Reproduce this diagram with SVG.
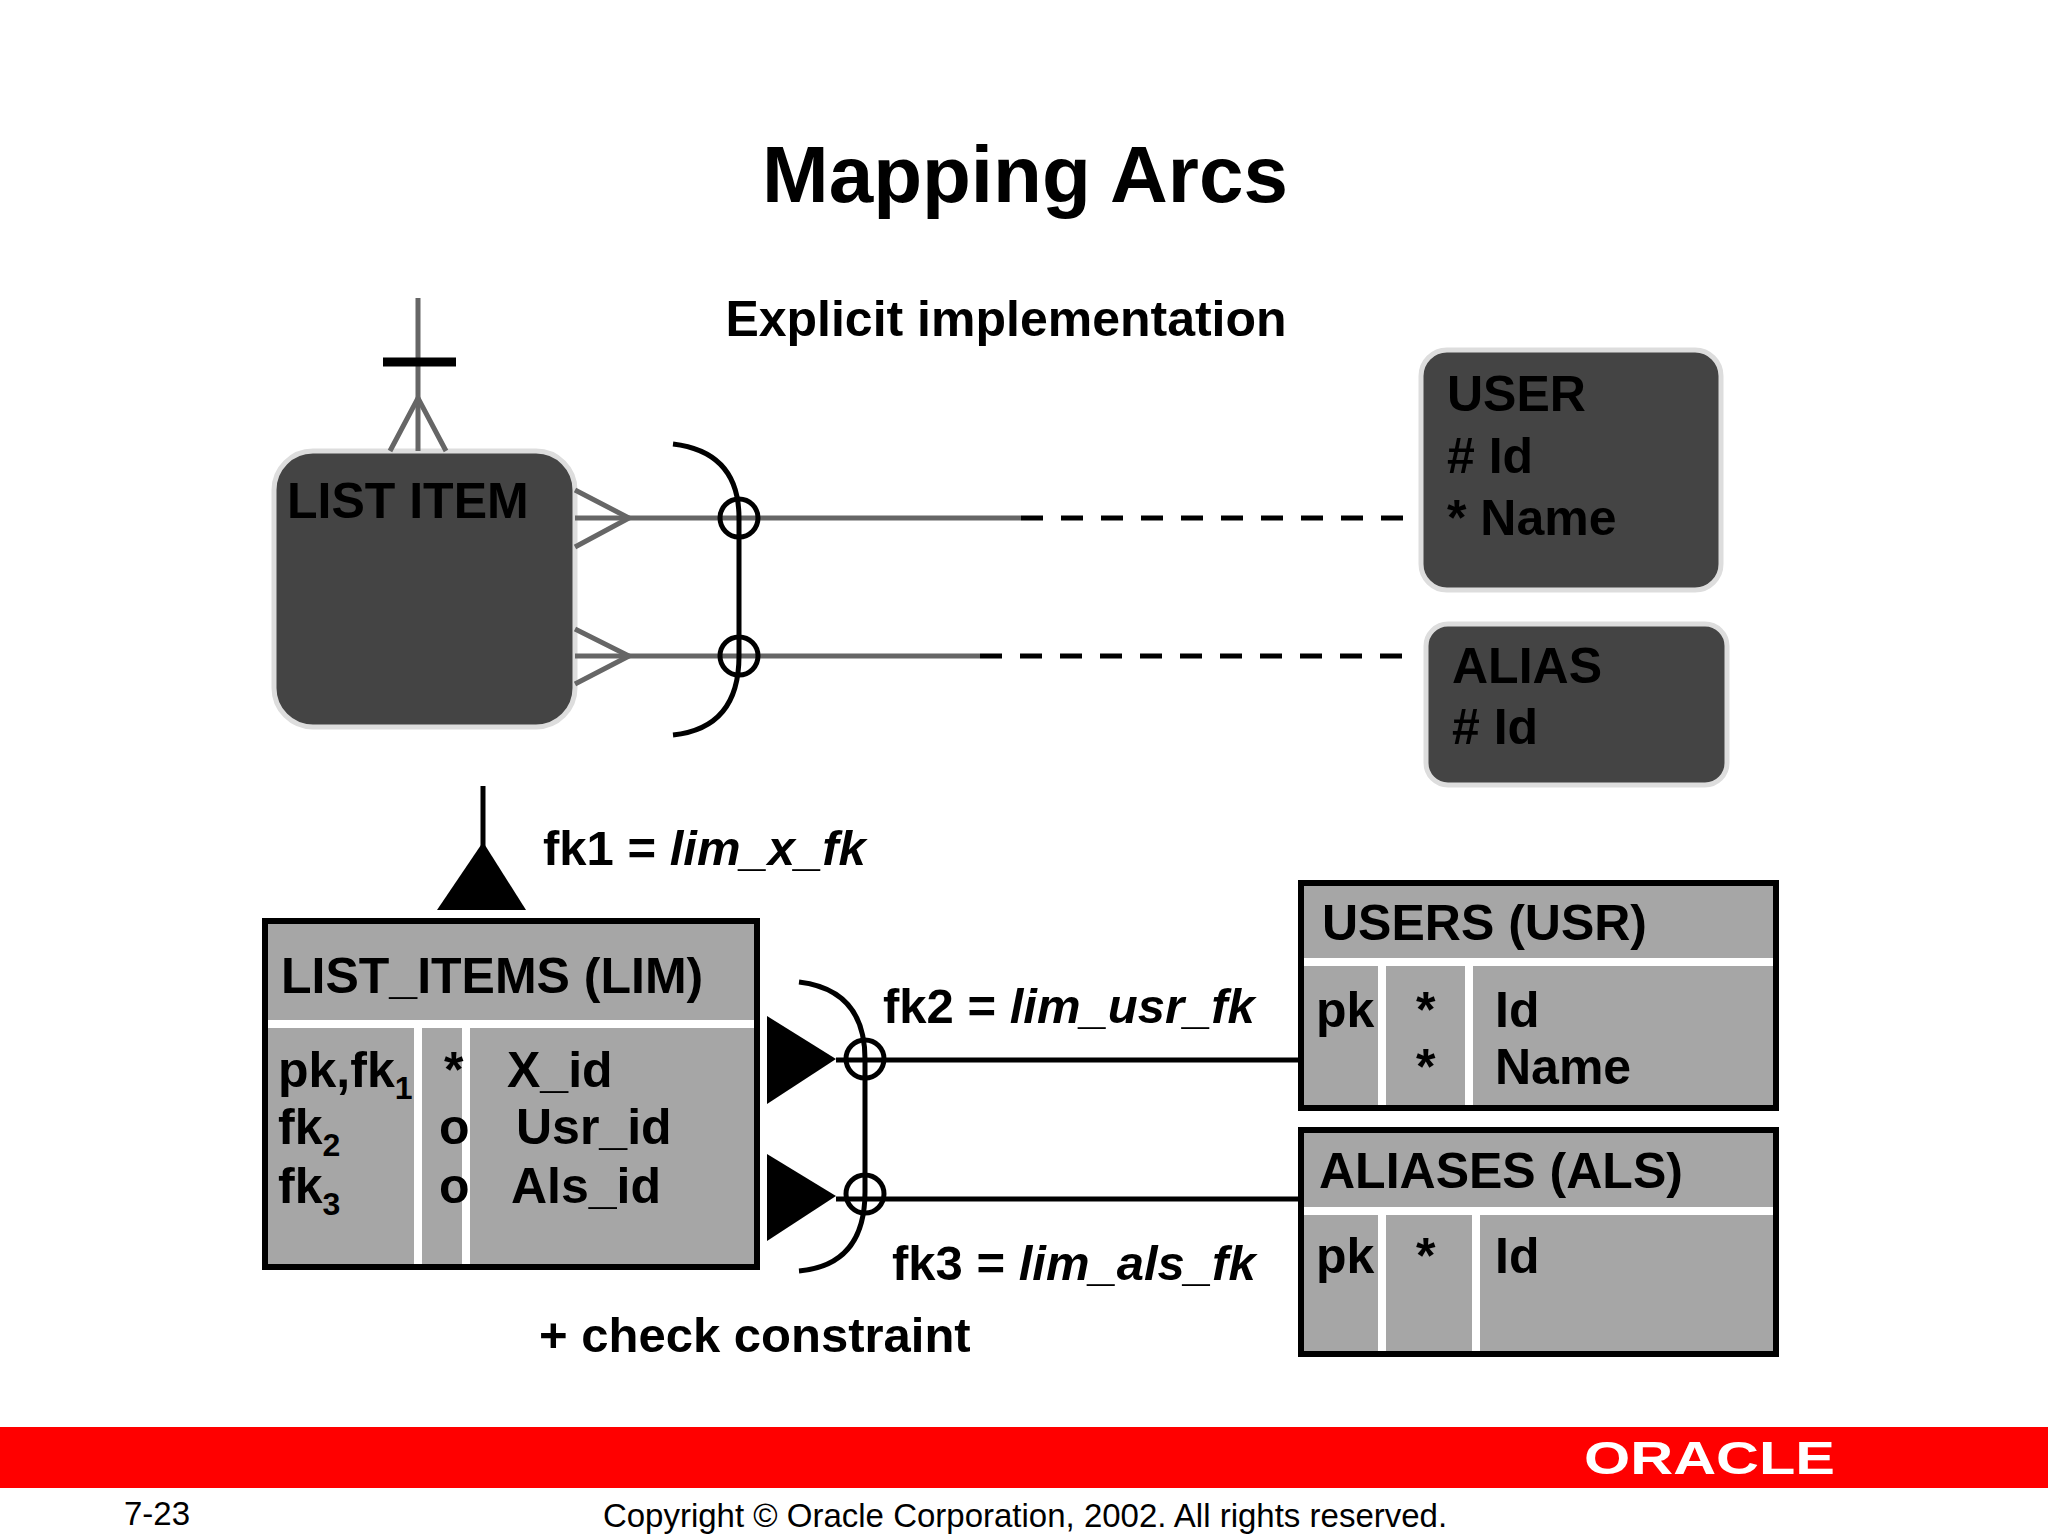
<svg xmlns="http://www.w3.org/2000/svg" width="2048" height="1536" viewBox="0 0 2048 1536">
<style>
text{font-family:"Liberation Sans",Arial,sans-serif;font-weight:bold;fill:#000}
.t{font-size:50px}
.er{fill:#444;stroke:#ddd;stroke-width:5}
.tb{fill:#a6a6a6;stroke:#000;stroke-width:6}
.w{stroke:#fff;stroke-width:8}
.g{stroke:#666;stroke-width:5;fill:none}
.k{stroke:#000;stroke-width:5;fill:none}
.d{stroke:#000;stroke-width:5;stroke-dasharray:22 18}
</style>
<rect width="2048" height="1536" fill="#fff"/>
<text x="1025" y="202" font-size="80" text-anchor="middle">Mapping Arcs</text>
<text x="1006" y="336" font-size="50" text-anchor="middle">Explicit implementation</text>
<g id="list-item">
<rect class="er" x="274" y="451" width="301" height="276" rx="39"/>
<text class="t" x="287" y="518">LIST ITEM</text>
</g>
<g id="user">
<rect class="er" x="1421" y="350" width="300" height="240" rx="26"/>
<text class="t" x="1447" y="411">USER</text>
<text class="t" x="1447" y="473"># Id</text>
<text class="t" x="1447" y="535">* Name</text>
</g>
<g id="alias">
<rect class="er" x="1426" y="624" width="301" height="161" rx="22"/>
<text class="t" x="1452" y="683">ALIAS</text>
<text class="t" x="1452" y="744"># Id</text>
</g>
<g id="list-items">
<rect class="tb" x="265" y="921" width="492" height="346"/>
<line class="w" x1="268" y1="1024" x2="754" y2="1024"/>
<line class="w" x1="418" y1="1028" x2="418" y2="1264"/>
<line class="w" x1="466" y1="1028" x2="466" y2="1264"/>
<text class="t" x="281" y="993">LIST_ITEMS (LIM)</text>
<text class="t" x="278" y="1087">pk,fk<tspan font-size="32" dy="12">1</tspan></text>
<text class="t" x="278" y="1144">fk<tspan font-size="32" dy="12">2</tspan></text>
<text class="t" x="278" y="1203">fk<tspan font-size="32" dy="12">3</tspan></text>
<text class="t" x="444" y="1087">*</text>
<text class="t" x="439" y="1144">o</text>
<text class="t" x="439" y="1203">o</text>
<text class="t" x="507" y="1087">X_id</text>
<text class="t" x="516" y="1144">Usr_id</text>
<text class="t" x="511" y="1203">Als_id</text>
</g>
<g id="users">
<rect class="tb" x="1301" y="883" width="475" height="225"/>
<line class="w" x1="1304" y1="962" x2="1773" y2="962"/>
<line class="w" x1="1382" y1="966" x2="1382" y2="1105"/>
<line class="w" x1="1469" y1="966" x2="1469" y2="1105"/>
<text class="t" x="1322" y="940">USERS (USR)</text>
<text class="t" x="1316" y="1027">pk</text>
<text class="t" x="1416" y="1027">*</text>
<text class="t" x="1416" y="1084">*</text>
<text class="t" x="1495" y="1027">Id</text>
<text class="t" x="1495" y="1084">Name</text>
</g>
<g id="aliases">
<rect class="tb" x="1301" y="1130" width="475" height="224"/>
<line class="w" x1="1304" y1="1211" x2="1773" y2="1211"/>
<line class="w" x1="1382" y1="1215" x2="1382" y2="1351"/>
<line class="w" x1="1476" y1="1215" x2="1476" y2="1351"/>
<text class="t" x="1319" y="1188">ALIASES (ALS)</text>
<text class="t" x="1316" y="1273">pk</text>
<text class="t" x="1416" y="1273">*</text>
<text class="t" x="1495" y="1273">Id</text>
</g>
<g id="connectors">
<line class="g" x1="418" y1="298" x2="418" y2="451"/>
<line x1="383" y1="362" x2="456" y2="362" stroke="#000" stroke-width="9"/>
<polyline class="g" points="390,451 418,398 446,451"/>
<polyline class="g" points="575,490 629,518 575,547"/>
<line class="g" x1="575" y1="518" x2="1021" y2="518"/>
<line class="d" x1="1021" y1="518" x2="1421" y2="518"/>
<polyline class="g" points="575,629 629,656 575,684"/>
<line class="g" x1="575" y1="656" x2="980" y2="656"/>
<line class="d" x1="980" y1="656" x2="1413" y2="656"/>
<path class="k" d="M673 444 Q739 452 739 518 L739 656 Q739 728 673 735"/>
<circle class="k" cx="739" cy="518" r="19"/>
<circle class="k" cx="739" cy="656" r="19"/>
<line class="k" x1="483" y1="786" x2="483" y2="850"/>
<polygon points="437,910 526,910 483,842" fill="#000"/>
<polygon points="767,1016 767,1104 836,1059" fill="#000"/>
<polygon points="767,1154 767,1241 836,1196" fill="#000"/>
<line class="k" x1="836" y1="1060" x2="1301" y2="1060"/>
<line class="k" x1="836" y1="1199" x2="1301" y2="1199"/>
<path class="k" d="M799 982 Q865 990 865 1059 L865 1192 Q865 1265 799 1271"/>
<circle class="k" cx="865" cy="1059" r="19"/>
<circle class="k" cx="865" cy="1194" r="19"/>
</g>
<text x="543" y="865" font-size="49">fk1 = <tspan font-style="italic">lim_x_fk</tspan></text>
<text x="883" y="1023" font-size="49">fk2 = <tspan font-style="italic">lim_usr_fk</tspan></text>
<text x="892" y="1280" font-size="49">fk3 = <tspan font-style="italic">lim_als_fk</tspan></text>
<text x="539" y="1352" font-size="49">+ check constraint</text>
<rect x="0" y="1427" width="2048" height="61" fill="#ff0000"/>
<text x="1584" y="1474" font-size="46" textLength="251" lengthAdjust="spacingAndGlyphs" style="fill:#fff;font-weight:bold">ORACLE</text>
<text x="124" y="1525" font-size="33" style="font-weight:normal">7-23</text>
<text x="1025" y="1527" font-size="33" text-anchor="middle" style="font-weight:normal">Copyright © Oracle Corporation, 2002. All rights reserved.</text>
</svg>
